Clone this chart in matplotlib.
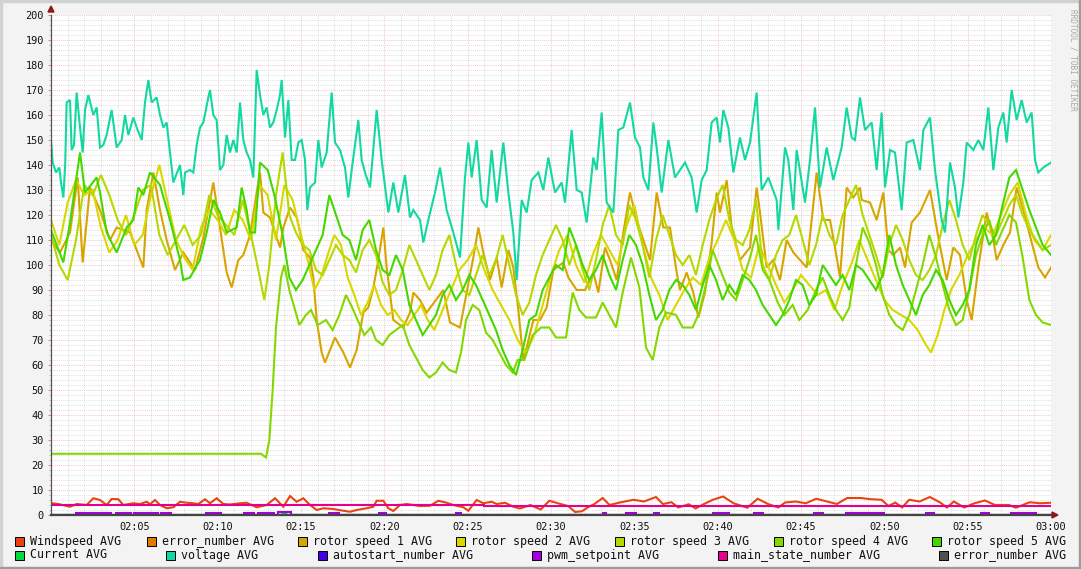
import matplotlib
matplotlib.use("Agg")
import matplotlib.pyplot as plt
from matplotlib.patches import Rectangle, Polygon
from matplotlib.ticker import MultipleLocator, FixedLocator

W, H = 1081, 569
MONO = "DejaVu Sans Mono"

# minutes after 02:00 / value pairs
voltage_t = [0.0, 0.1, 0.3, 0.5, 0.6, 0.74, 0.85, 0.94, 1.14, 1.24, 1.38, 1.54, 1.74, 1.9, 2.04, 2.24, 2.54, 2.74, 2.94, 3.14,
             3.34, 3.64, 3.94, 4.24, 4.44, 4.64, 4.94, 5.14, 5.44, 5.64, 5.84, 6.04, 6.34, 6.54, 6.74, 6.94, 7.14, 7.34, 7.74, 7.94,
             8.04, 8.34, 8.54, 8.74, 8.94, 9.14, 9.44, 9.54, 9.74, 9.94, 10.14, 10.34, 10.54, 10.74, 10.94, 11.14, 11.34, 11.54, 11.74, 11.94,
             12.14, 12.34, 12.54, 12.74, 12.94, 13.14, 13.34, 13.54, 13.74, 13.84, 14.04, 14.24, 14.44, 14.64, 14.84, 15.04, 15.24, 15.38, 15.54, 15.84,
             16.04, 16.24, 16.54, 16.84, 17.04, 17.34, 17.64, 17.84, 18.04, 18.44, 18.64, 18.84, 19.14, 19.54, 19.84, 20.24, 20.54, 20.84, 21.24, 21.54,
             21.74, 22.14, 22.34, 22.64, 23.04, 23.34, 23.74, 24.14, 24.54, 24.84, 25.04, 25.24, 25.54, 25.84, 26.14, 26.44, 26.74, 27.14, 27.44, 27.74,
             27.94, 28.24, 28.54, 28.84, 29.24, 29.54, 29.84, 30.24, 30.64, 30.84, 31.24, 31.54, 31.84, 32.14, 32.54, 32.74, 33.04, 33.34, 33.74, 34.04,
             34.34, 34.74, 35.04, 35.34, 35.54, 35.84, 36.14, 36.34, 36.64, 37.04, 37.44, 37.74, 38.04, 38.44, 38.74, 39.04, 39.34, 39.64, 39.94, 40.14,
             40.34, 40.64, 40.94, 41.34, 41.64, 41.94, 42.34, 42.64, 43.04, 43.54, 43.64, 44.04, 44.24, 44.54, 44.74, 45.24, 45.54, 45.84, 46.14, 46.54,
             46.94, 47.44, 47.74, 48.04, 48.24, 48.54, 48.84, 49.24, 49.54, 49.84, 50.04, 50.34, 50.64, 51.04, 51.34, 51.74, 52.14, 52.34, 52.74, 53.04,
             53.44, 53.64, 53.94, 54.24, 54.44, 54.74, 54.94, 55.34, 55.64, 55.94, 56.24, 56.54, 56.84, 57.14, 57.34, 57.64, 57.94, 58.24, 58.54, 58.84,
             59.04, 59.24, 59.54, 60.0]
voltage_v = [150, 141, 137, 139, 133, 127, 140, 165, 166, 146, 148, 169, 155, 145, 162, 168, 160, 163, 147, 148,
             152, 162, 147, 150, 160, 152, 159, 155, 150, 165, 174, 165, 167, 160, 155, 157, 145, 133, 140, 128,
             137, 138, 137, 148, 155, 157, 167, 170, 160, 158, 138, 140, 152, 145, 150, 145, 165, 150, 145, 142,
             135, 178, 168, 160, 163, 155, 157, 162, 168, 174, 151, 166, 142, 142, 149, 150, 142, 122, 131, 133,
             150, 139, 145, 169, 149, 146, 139, 127, 138, 158, 142, 137, 131, 162, 142, 121, 133, 121, 136, 119,
             122, 118, 109, 118, 129, 139, 122, 113, 103, 135, 149, 135, 150, 126, 123, 146, 125, 149, 129, 113,
             94, 126, 121, 134, 137, 130, 143, 129, 133, 125, 154, 130, 129, 117, 143, 138, 161, 125, 121, 154,
             155, 165, 151, 147, 135, 130, 157, 147, 129, 150, 135, 138, 141, 135, 121, 134, 138, 157, 159, 149,
             162, 155, 137, 151, 142, 149, 169, 130, 135, 126, 114, 147, 142, 122, 146, 125, 142, 163, 131, 147,
             134, 147, 163, 151, 150, 167, 154, 157, 138, 161, 131, 146, 145, 122, 149, 150, 138, 154, 159, 138,
             118, 113, 141, 131, 119, 133, 149, 146, 150, 146, 163, 138, 155, 161, 149, 170, 158, 166, 157, 161,
             142, 137, 139, 141]

rotor1_t = [0, 0.54, 1.14, 1.6, 1.9, 2.34, 2.94, 3.54, 3.94, 4.74, 5.54, 5.74, 6.14, 6.54, 6.94, 7.44, 7.94, 8.64, 9.14, 9.74,
            10.14, 10.54, 10.84, 11.24, 11.54, 11.94, 12.34, 12.54, 12.74, 13.14, 13.54, 13.74, 13.94, 14.34, 14.74, 14.94, 15.14, 15.54, 15.74, 15.94,
            16.24, 16.44, 17.04, 17.54, 17.94, 18.34, 18.74, 19.04, 19.34, 19.64, 19.94, 20.14, 20.54, 21.14, 21.54, 21.74, 22.14, 22.54, 23.54, 23.94,
            24.54, 24.94, 25.34, 25.64, 25.94, 26.34, 26.74, 27.04, 27.44, 27.74, 28.04, 28.34, 28.54, 28.94, 29.34, 29.74, 30.14, 30.74, 31.04, 31.54,
            32.04, 32.54, 32.84, 33.24, 33.54, 33.94, 34.34, 34.74, 35.14, 35.54, 35.94, 36.34, 36.74, 37.14, 37.54, 37.74, 38.14, 38.54, 38.84, 39.24,
            39.64, 39.94, 40.14, 40.54, 40.84, 41.34, 41.94, 42.34, 42.54, 42.94, 43.34, 43.74, 44.14, 44.54, 44.94, 45.34, 45.94, 46.34, 46.74, 47.04,
            47.34, 47.74, 48.14, 48.54, 48.64, 49.14, 49.54, 49.94, 50.24, 50.54, 50.94, 51.24, 51.64, 52.14, 52.74, 53.24, 53.74, 54.14, 54.54, 54.94,
            55.24, 55.64, 56.14, 56.54, 56.74, 57.14, 57.54, 57.94, 58.34, 58.84, 59.24, 59.64, 60.0]
rotor1_v = [110, 105, 113, 135, 101, 131, 122, 110, 115, 113, 99, 122, 137, 122, 110, 98, 105, 98, 111, 133,
            115, 97, 91, 102, 104, 112, 129, 137, 121, 119, 111, 107, 115, 123, 119, 113, 106, 103, 95, 78,
            65, 61, 71, 65, 59, 66, 81, 83, 91, 102, 115, 99, 78, 75, 81, 89, 86, 81, 90, 77,
            75, 89, 103, 115, 105, 94, 103, 91, 106, 99, 82, 62, 67, 78, 78, 83, 98, 101, 95, 90,
            90, 97, 89, 107, 102, 94, 113, 129, 118, 110, 102, 129, 115, 115, 97, 90, 97, 89, 79, 89,
            109, 129, 121, 134, 115, 102, 107, 131, 121, 99, 102, 94, 110, 105, 102, 99, 137, 118, 118, 107,
            95, 131, 127, 131, 126, 125, 118, 129, 106, 104, 107, 99, 117, 121, 130, 111, 94, 107, 104, 86,
            78, 99, 121, 110, 102, 108, 113, 131, 122, 109, 99, 95, 99]

rotor2_t = [0, 0.5, 1.0, 1.5, 2.0, 2.5, 3.0, 3.5, 4.0, 4.5, 5.0, 5.5, 6.0, 6.5, 7.0, 7.5, 8.0, 8.5, 9.0, 9.5,
            10.0, 10.5, 11.0, 11.5, 12.0, 12.5, 13.0, 13.5, 14.0, 14.5, 15.0, 15.4, 15.8, 16.2, 16.6, 17.0, 17.4, 17.8, 18.2, 18.6,
            19.0, 19.4, 19.8, 20.2, 20.6, 21.0, 21.4, 21.8, 22.2, 22.6, 23.0, 23.5, 24.0, 24.5, 25.0, 25.5, 26.0, 26.5, 27.0, 27.5,
            28.0, 28.5, 29.0, 29.5, 30.0, 30.5, 31.0, 31.5, 32.0, 32.5, 33.0, 33.5, 34.0, 34.5, 35.0, 35.5, 36.0, 36.5, 37.0, 37.5,
            38.0, 38.5, 39.0, 39.5, 40.0, 40.5, 41.0, 41.5, 42.0, 42.5, 43.0, 43.5, 44.0, 44.5, 45.0, 45.5, 46.0, 46.5, 47.0, 47.5,
            48.0, 48.5, 49.0, 49.5, 50.0, 50.5, 51.0, 51.5, 52.0, 52.5, 52.8, 53.2, 53.6, 54.0, 54.5, 55.0, 55.5, 56.0, 56.5, 57.0,
            57.5, 58.0, 58.5, 59.0, 59.5, 60.0]
rotor2_v = [118, 108, 125, 134, 128, 130, 115, 105, 110, 120, 108, 112, 128, 140, 125, 110, 103, 98, 115, 122,
            118, 112, 122, 118, 110, 132, 128, 110, 132, 126, 112, 102, 90, 95, 104, 112, 108, 95, 88, 80,
            85, 92, 84, 80, 82, 78, 76, 80, 84, 78, 74, 82, 90, 98, 102, 108, 98, 90, 84, 78,
            70, 65, 72, 84, 96, 106, 112, 100, 93, 104, 112, 106, 100, 115, 124, 108, 95, 88, 78, 84,
            90, 95, 92, 103, 110, 118, 110, 98, 95, 108, 100, 92, 85, 90, 96, 92, 88, 90, 82, 92,
            100, 110, 102, 94, 86, 82, 80, 78, 74, 68, 65, 72, 82, 90, 96, 104, 110, 115, 112, 120,
            128, 133, 120, 110, 106, 112]

rotor3_t = [0, 0.5, 1.0, 1.5, 2.0, 2.5, 3.0, 3.5, 4.0, 4.5, 5.0, 5.5, 6.0, 6.5, 7.0, 7.5, 8.0, 8.5, 9.0, 9.5,
            10.0, 10.5, 11.0, 11.5, 12.0, 12.5, 12.8, 13.1, 13.5, 13.9, 14.3, 14.7, 15.1, 15.5, 15.9, 16.3, 16.7, 17.1, 17.5, 17.9,
            18.3, 18.7, 19.1, 19.5, 19.9, 20.3, 20.7, 21.1, 21.5, 21.9, 22.3, 22.7, 23.1, 23.5, 23.9, 24.3, 24.7, 25.1, 25.5, 25.9,
            26.3, 26.7, 27.1, 27.5, 27.9, 28.3, 28.7, 29.1, 29.5, 29.9, 30.3, 30.7, 31.1, 31.5, 31.9, 32.3, 32.7, 33.1, 33.5, 33.9,
            34.3, 34.7, 35.1, 35.5, 35.9, 36.3, 36.7, 37.1, 37.5, 37.9, 38.3, 38.7, 39.1, 39.5, 39.9, 40.3, 40.7, 41.1, 41.5, 41.9,
            42.3, 42.7, 43.1, 43.5, 43.9, 44.3, 44.7, 45.1, 45.5, 45.9, 46.3, 46.7, 47.1, 47.5, 47.9, 48.3, 48.7, 49.1, 49.5, 49.9,
            50.3, 50.7, 51.1, 51.5, 51.9, 52.3, 52.7, 53.1, 53.5, 53.9, 54.3, 54.7, 55.1, 55.5, 55.9, 56.3, 56.7, 57.1, 57.5, 57.9,
            58.3, 58.7, 59.1, 59.5, 60.0]
rotor3_v = [112, 100, 94, 110, 132, 128, 136, 128, 118, 112, 120, 130, 132, 112, 104, 110, 116, 108, 112, 128,
            120, 116, 112, 126, 112, 96, 86, 100, 128, 145, 120, 113, 108, 106, 98, 96, 102, 108, 104, 102,
            97, 106, 110, 104, 93, 88, 90, 98, 108, 102, 96, 90, 96, 106, 112, 100, 90, 88, 96, 104,
            96, 102, 112, 100, 88, 80, 85, 96, 104, 110, 116, 110, 100, 108, 98, 90, 102, 116, 124, 112,
            108, 124, 118, 108, 95, 110, 120, 112, 104, 100, 104, 96, 108, 118, 126, 132, 118, 110, 108, 114,
            126, 100, 94, 104, 110, 112, 120, 110, 100, 108, 120, 112, 108, 120, 126, 132, 120, 112, 104, 95,
            108, 116, 110, 102, 96, 94, 98, 104, 116, 126, 118, 108, 102, 112, 120, 116, 112, 118, 124, 128,
            120, 114, 110, 106, 108]

rotor4_t = [0, 12.6, 12.9, 13.1, 13.3, 13.5, 13.8, 14.0, 14.3, 14.6, 14.9, 15.3, 15.6, 16.0, 16.5, 16.9, 17.3, 17.7, 18.0, 18.4,
            18.8, 19.2, 19.5, 19.9, 20.3, 20.7, 21.1, 21.5, 21.9, 22.3, 22.7, 23.1, 23.5, 23.9, 24.3, 24.6, 24.9, 25.3, 25.7, 26.1,
            26.5, 26.9, 27.3, 27.7, 28.0, 28.4, 28.9, 29.4, 29.9, 30.3, 30.9, 31.3, 31.7, 32.1, 32.7, 33.1, 33.5, 33.9, 34.3, 34.8,
            35.3, 35.7, 36.1, 36.5, 36.9, 37.5, 37.9, 38.5, 38.9, 39.4, 39.7, 40.1, 40.7, 41.1, 41.5, 41.9, 42.3, 42.7, 43.1, 43.6,
            44.0, 44.5, 44.9, 45.4, 45.9, 46.3, 46.7, 47.1, 47.5, 47.9, 48.3, 48.7, 49.1, 49.5, 49.9, 50.3, 50.7, 51.1, 51.5, 51.9,
            52.3, 52.7, 53.1, 53.5, 53.9, 54.3, 54.7, 55.1, 55.5, 55.9, 56.3, 56.7, 57.1, 57.5, 57.9, 58.3, 58.7, 59.1, 59.5, 60.0]
rotor4_v = [24.5, 24.5, 23, 30, 50, 75, 95, 100, 90, 83, 76, 80, 82, 76, 78, 74, 80, 88, 84, 78,
            72, 75, 70, 68, 72, 74, 76, 68, 63, 58, 55, 57, 61, 58, 57, 65, 78, 84, 82, 73,
            70, 65, 60, 57, 62, 62, 72, 75, 75, 71, 71, 89, 82, 79, 79, 85, 80, 75, 89, 103,
            91, 67, 62, 75, 81, 80, 75, 75, 81, 95, 106, 99, 89, 86, 94, 102, 112, 98, 94, 85,
            80, 84, 78, 82, 90, 95, 88, 82, 78, 83, 100, 115, 109, 100, 88, 80, 76, 74, 80, 90,
            100, 112, 103, 92, 82, 76, 78, 90, 104, 112, 118, 108, 114, 120, 117, 103, 86, 80, 77, 76]

rotor5_t = [0, 0.74, 1.14, 1.74, 2.04, 2.74, 2.94, 3.34, 3.94, 4.54, 4.94, 5.24, 5.54, 5.94, 6.54, 7.14, 7.74, 7.94, 8.34, 8.94,
            9.34, 9.74, 10.14, 10.54, 11.14, 11.44, 11.74, 11.94, 12.24, 12.54, 13.0, 13.4, 13.9, 14.3, 14.7, 15.1, 15.5, 15.9, 16.3, 16.7,
            17.1, 17.5, 17.9, 18.3, 18.7, 19.1, 19.5, 19.9, 20.3, 20.7, 21.1, 21.5, 21.9, 22.3, 22.7, 23.1, 23.5, 23.9, 24.3, 24.7,
            25.1, 25.5, 25.9, 26.3, 26.7, 27.1, 27.5, 27.9, 28.3, 28.7, 29.1, 29.5, 29.9, 30.3, 30.7, 31.1, 31.5, 31.9, 32.3, 32.7,
            33.1, 33.5, 33.9, 34.3, 34.7, 35.1, 35.5, 35.9, 36.3, 36.7, 37.1, 37.5, 37.9, 38.3, 38.7, 39.1, 39.5, 39.9, 40.3, 40.7,
            41.1, 41.5, 41.9, 42.3, 42.7, 43.1, 43.5, 43.9, 44.3, 44.7, 45.1, 45.5, 45.9, 46.3, 46.7, 47.1, 47.5, 47.9, 48.3, 48.7,
            49.1, 49.5, 49.9, 50.3, 50.7, 51.1, 51.5, 51.9, 52.3, 52.7, 53.1, 53.5, 53.9, 54.3, 54.7, 55.1, 55.5, 55.9, 56.3, 56.7,
            57.1, 57.5, 57.9, 58.3, 58.7, 59.1, 59.5, 60.0]
rotor5_v = [114, 101, 117, 145, 129, 135, 129, 113, 105, 115, 118, 131, 128, 137, 132, 118, 102, 94, 95, 102,
            113, 126, 121, 113, 115, 131, 122, 113, 113, 141, 138, 128, 112, 95, 90, 94, 100, 106, 112, 128,
            120, 112, 110, 102, 114, 118, 106, 98, 96, 104, 98, 84, 78, 72, 76, 80, 88, 92, 86, 90,
            96, 92, 86, 80, 74, 66, 60, 56, 66, 78, 80, 90, 95, 100, 98, 115, 108, 100, 94, 98,
            104, 96, 90, 102, 112, 108, 100, 88, 78, 82, 90, 94, 92, 88, 82, 92, 100, 94, 86, 92,
            88, 96, 94, 90, 84, 80, 76, 80, 86, 94, 92, 84, 88, 100, 96, 92, 96, 90, 100, 98,
            94, 90, 96, 112, 100, 92, 86, 80, 88, 92, 98, 94, 86, 80, 84, 90, 108, 116, 108, 112,
            124, 135, 138, 130, 122, 115, 108, 104]

wind_t = [0.04, 0.44, 1.14, 1.54, 2.14, 2.54, 2.94, 3.34, 3.64, 4.04, 4.34, 4.94, 5.34, 5.74, 5.94, 6.24, 6.54, 6.94, 7.34, 7.74,
          8.14, 8.54, 8.84, 9.24, 9.54, 9.94, 10.34, 10.74, 11.34, 11.74, 12.34, 12.94, 13.44, 13.94, 14.34, 14.74, 15.14, 15.54, 15.94, 16.34,
          16.94, 17.54, 17.94, 18.34, 18.94, 19.34, 19.54, 19.94, 20.24, 20.54, 20.94, 21.34, 21.74, 22.14, 22.74, 23.24, 23.74, 24.14, 24.74, 25.04,
          25.54, 25.94, 26.44, 26.74, 27.24, 27.74, 28.14, 28.76, 29.38, 29.90, 30.62, 31.03, 31.45, 31.86, 32.27, 32.58, 33.10, 33.51, 34.13, 34.96,
          35.58, 36.30, 36.71, 37.23, 37.64, 38.26, 38.68, 39.09, 39.71, 40.33, 40.95, 41.78, 42.40, 43.02, 43.64, 44.05, 44.67, 45.29, 45.91, 46.74,
          47.15, 47.77, 48.59, 49.21, 49.83, 50.25, 50.66, 51.07, 51.49, 52.11, 52.73, 53.35, 53.76, 54.17, 54.79, 55.41, 56.03, 56.65, 57.48, 57.89,
          58.72, 59.34, 60.0]
wind_v = [4.7, 4.4, 3.3, 4.4, 4.0, 6.7, 6.0, 4.0, 6.4, 6.3, 4.0, 4.7, 4.4, 5.3, 4.3, 6.0, 4.0, 2.7, 3.1, 5.3,
          4.9, 4.7, 4.4, 6.3, 4.7, 6.7, 4.4, 4.2, 4.7, 4.9, 3.1, 4.0, 6.7, 3.3, 7.6, 5.3, 6.7, 4.0, 2.0, 2.7,
          2.4, 1.7, 1.3, 2.0, 2.7, 3.3, 5.7, 5.7, 2.7, 1.6, 4.0, 4.4, 4.0, 3.6, 3.7, 5.7, 4.9, 4.0, 3.1, 1.7,
          6.0, 4.7, 5.3, 4.4, 4.9, 3.3, 2.6, 4.0, 2.2, 5.7, 4.3, 3.6, 1.2, 1.5, 3.3, 4.3, 6.8, 4.0, 5.0, 6.1,
          5.4, 7.2, 4.4, 5.1, 3.0, 4.3, 2.6, 4.1, 6.1, 7.4, 4.7, 2.9, 6.5, 4.4, 3.0, 5.0, 5.4, 4.7, 6.5, 5.1,
          4.4, 6.8, 6.8, 6.3, 6.1, 3.6, 5.0, 3.0, 6.1, 5.4, 7.2, 5.0, 3.0, 5.4, 3.0, 4.7, 5.8, 4.0, 4.0, 2.9,
          5.1, 4.7, 4.9]

pwm_t = [0, 1.5, 3.6, 3.9, 4.8, 5.0, 6.4, 6.6, 7.2, 9.3, 10.2, 11.6, 12.2, 12.4, 13.4, 13.6, 14.4, 16.7, 17.3, 19.7,
         20.1, 24.3, 24.6, 33.1, 33.3, 34.5, 35.1, 36.2, 36.5, 39.7, 40.7, 42.2, 42.7, 45.8, 46.3, 47.7, 50.0, 52.5, 53.0, 55.8,
         56.3, 57.6, 59.1, 60]
pwm_v = [0, 1.0, 0, 1.0, 0, 1.0, 0, 1.0, 0, 1.0, 0, 1.0, 0, 1.0, 0, 1.4, 0, 1.0, 0, 1.0,
         0, 1.0, 0, 0.9, 0, 1.0, 0, 0.9, 0, 1.0, 0, 1.0, 0, 1.0, 0, 1.0, 0, 0.9, 0, 1.0,
         0, 1.0, 0, 0]

current_t = [0, 13.8, 14.0, 14.2, 60]
current_v = [0, 0, 1.0, 0, 0]

mainstate_t = [0, 26.0, 26.0, 60]
mainstate_v = [3.9, 3.9, 3.5, 3.5]

zero_t = [0, 60]
zero_v = [0, 0]

row1_labels = ["Windspeed AVG", "error_number AVG", "rotor speed 1 AVG", "rotor speed 2 AVG",
               "rotor speed 3 AVG", "rotor speed 4 AVG", "rotor speed 5 AVG"]
row1_colors = ["#e84312", "#e07a00", "#d8a400", "#d8d800", "#b4d800", "#84d800", "#44d800"]
row2_labels = ["Current AVG", "voltage AVG", "autostart_number AVG", "pwm_setpoint AVG",
               "main_state_number AVG", "error_number AVG"]
row2_colors = ["#00d844", "#12d8a2", "#4400e0", "#a400e0", "#e4008c", "#505050"]

# zero-valued series go underneath, the rest in legend order
zero_colors = [row1_colors[1], row2_colors[2], row2_colors[5]]
series = [
    (wind_t, wind_v, row1_colors[0]),
    (rotor1_t, rotor1_v, row1_colors[2]),
    (rotor2_t, rotor2_v, row1_colors[3]),
    (rotor3_t, rotor3_v, row1_colors[4]),
    (rotor4_t, rotor4_v, row1_colors[5]),
    (rotor5_t, rotor5_v, row1_colors[6]),
    (current_t, current_v, row2_colors[0]),
    (voltage_t, voltage_v, row2_colors[1]),
    (pwm_t, pwm_v, row2_colors[3]),
    (mainstate_t, mainstate_v, row2_colors[4]),
]

fig = plt.figure(figsize=(W / 100, H / 100), dpi=100, facecolor="#f3f3f3")
ax = fig.add_axes([51 / W, 54 / H, 1000 / W, 500 / H])
ax.set_facecolor("white")

for c in zero_colors:
    ax.plot(zero_t, zero_v, color=c, lw=1.5, zorder=2.5)
for i, (t, v, c) in enumerate(series):
    ds = "steps-post" if v is pwm_v else "default"
    ax.plot(t, v, color=c, lw=1.5, drawstyle=ds, solid_joinstyle="miter", zorder=3 + i * 0.01)

ax.set_xlim(0, 60)
ax.set_ylim(0, 200)
ax.xaxis.set_major_locator(FixedLocator(range(5, 61, 5)))
ax.xaxis.set_minor_locator(MultipleLocator(1))
ax.yaxis.set_major_locator(MultipleLocator(10))
ax.yaxis.set_minor_locator(MultipleLocator(2))
ax.set_xticklabels([f"{2 + m // 60:02d}:{m % 60:02d}" for m in range(5, 61, 5)])

ax.grid(which="minor", color="#d6d6d6", lw=0.6, linestyle=(0, (1, 1.3)), zorder=1)
ax.grid(which="major", color="#f0b4b4", lw=0.6, linestyle=(0, (1, 1.3)), zorder=1)
ax.set_axisbelow(True)

for s in ("top", "right"):
    ax.spines[s].set_visible(False)
ax.spines["left"].set_color("#555555")
ax.spines["left"].set_linewidth(0.9)
ax.spines["bottom"].set_color("#444444")
ax.spines["bottom"].set_linewidth(1.6)
for s in ("left", "bottom"):
    ax.spines[s].set_zorder(5)

ax.tick_params(axis="y", which="major", length=2.2, width=0.7, color="#e08080", pad=3,
               labelsize=7.4, labelcolor="#111111")
ax.tick_params(axis="y", which="minor", length=1.5, width=0.7, color="#b8b8b8")
ax.tick_params(axis="x", which="both", length=0, pad=5, labelsize=7.4, labelcolor="#111111")
for lab in ax.get_xticklabels() + ax.get_yticklabels():
    lab.set_family(MONO)

# axis arrows
fig.patches.append(Polygon([[48 / W, 1 - 12 / H], [54 / W, 1 - 12 / H], [51 / W, 1 - 6 / H]],
                           closed=True, transform=fig.transFigure, color="#8b1a1a", zorder=10))
fig.patches.append(Polygon([[1052 / W, 1 - 512 / H], [1052 / W, 1 - 518 / H], [1058 / W, 1 - 515 / H]],
                           closed=True, transform=fig.transFigure, color="#8b1a1a", zorder=10))

# watermark
fig.text(1073 / W, 1 - 60 / H, "RRDTOOL / TOBI OETIKER", rotation=270, ha="center", va="center",
         fontsize=5.6, color="#a8a8a8", family=MONO)

# legend
row1_x = [15, 147, 298, 456, 615, 774, 932]
row2_x = [15, 166, 318, 532, 718, 939]
for xs, labels, colors, yc in ((row1_x, row1_labels, row1_colors, 541),
                               (row2_x, row2_labels, row2_colors, 555)):
    for x0, lab, col in zip(xs, labels, colors):
        fig.patches.append(Rectangle((x0 / W, 1 - (yc + 4.5) / H), 9 / W, 9 / H, transform=fig.transFigure,
                                     facecolor=col, edgecolor="black", lw=0.7, zorder=10))
        fig.text((x0 + 15) / W, 1 - yc / H, lab, ha="left", va="center", fontsize=8.4,
                 family=MONO, color="#111111")

# 3d frame
fig.patches.append(Rectangle((0, 1 - 2 / H), 1, 2 / H, transform=fig.transFigure, color="#d2d2d2", zorder=0))
fig.patches.append(Rectangle((0, 0), 2 / W, 1, transform=fig.transFigure, color="#d2d2d2", zorder=0))
fig.patches.append(Rectangle((0, 0), 1, 2 / H, transform=fig.transFigure, color="#9c9c9c", zorder=0))
fig.patches.append(Rectangle((1 - 2 / W, 0), 2 / W, 1, transform=fig.transFigure, color="#9c9c9c", zorder=0))

fig.savefig("out.png", dpi=100, facecolor=fig.get_facecolor())
